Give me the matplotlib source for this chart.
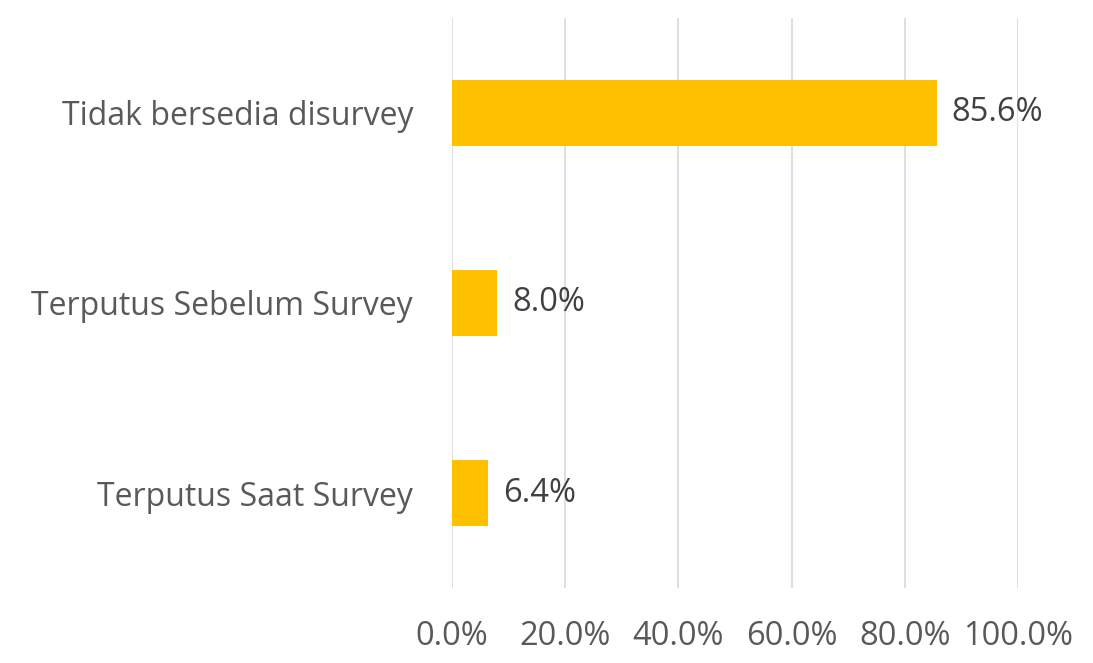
import matplotlib.pyplot as plt

# data
kategori = ['Tidak bersedia disurvey', 'Terputus Sebelum Survey', 'Terputus Saat Survey']
persen = [85.6, 8.0, 6.4]
ticks = [0, 20, 40, 60, 80, 100]

plt.rcParams['font.family'] = ['Open Sans', 'DejaVu Sans']

fig = plt.figure(figsize=(10.93, 6.63), dpi=100)
ax = fig.add_axes([0.4135, 0.1131, 0.5179, 0.8598])

pos = range(len(kategori))
ax.barh(pos, persen, height=0.35, color='#FFC000', zorder=3)

for p, v in zip(pos, persen):
    ax.annotate(f'{v:.1f}%', (v, p), xytext=(11, 0), textcoords='offset points',
                va='center', ha='left', fontsize=23.5, color='#404040')

ax.set_xlim(0, 100)
ax.set_ylim(2.5, -0.5)
ax.set_xticks(ticks)
ax.set_xticklabels([f'{t:.1f}%' for t in ticks])
ax.set_yticks(list(pos))
ax.set_yticklabels(kategori)

ax.tick_params(axis='x', length=0, pad=23, labelsize=23.5, labelcolor='#595959')
ax.tick_params(axis='y', length=0, pad=28, labelsize=23, labelcolor='#595959')
ax.grid(axis='x', color='#D9D9D9', linewidth=1.2, zorder=0)
for s in ax.spines.values():
    s.set_visible(False)

fig.savefig('out.png', dpi=100)
